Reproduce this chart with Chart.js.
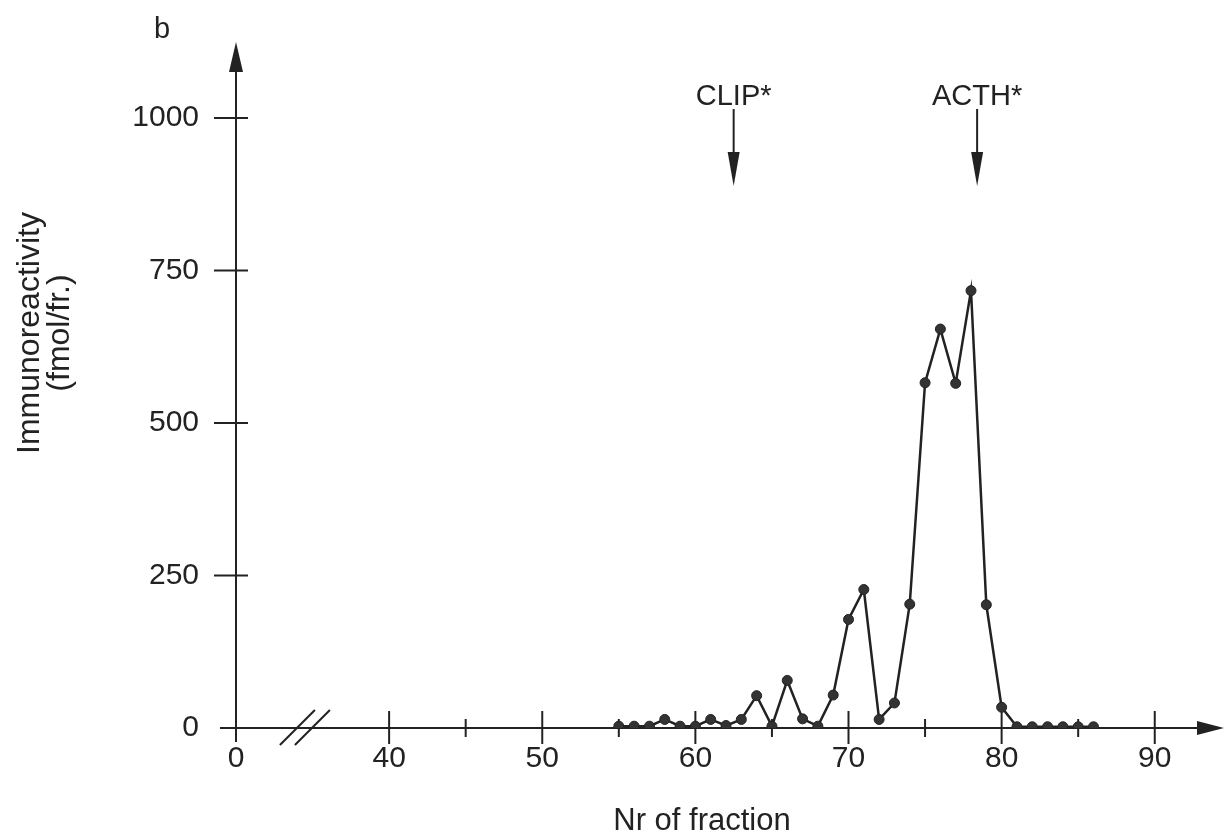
<!DOCTYPE html>
<html lang="en">
<head>
    <meta charset="UTF-8">
    <title>Immunoreactivity per fraction</title>
    <script src="https://cdn.jsdelivr.net/npm/chart.js"></script>
    <style>
        html, body { margin: 0; padding: 0; background: #fff; }
    </style>
</head>
<body>
    <canvas id="fractionChart" width="1227" height="835"></canvas>

    <script>
        // Fraction numbers and immunoreactivity (fmol/fr.)
        const fractions = [55, 56, 57, 58, 59, 60, 61, 62, 63, 64, 65, 66, 67, 68, 69, 70,
                           71, 72, 73, 74, 75, 76, 77, 78, 79, 80, 81, 82, 83, 84, 85, 86];
        const immuno = [3, 3, 3, 14, 3, 3, 14, 4, 14, 53, 3, 78, 15, 3, 54, 178,
                        227, 14, 41, 203, 566, 654, 565, 717, 202, 34, 2, 2, 2, 2, 2, 2];

        // Axis ticks. The axis is broken, so fraction "0" is drawn at position 30
        const xTicks = [30, 40, 45, 50, 55, 60, 65, 70, 75, 80, 85, 90];
        const xTickLabels = ["0", "40", "", "50", "", "60", "", "70", "", "80", "", "90"];
        const yTicks = [0, 250, 500, 750, 1000];

        // Elution positions of the markers (arrows above the plot)
        const markerNames = ["CLIP*", "ACTH*"];
        const markerFractions = [62.5, 78.4];

        const fontFamily = "'Liberation Sans', Arial, Helvetica, sans-serif";
        const ink = "#222";

        function arrowHead(ctx, tipX, tipY, dirX, dirY, len, half) {
            // filled narrow triangle pointing along (dirX, dirY)
            const bx = tipX - dirX * len, by = tipY - dirY * len;
            ctx.beginPath();
            ctx.moveTo(tipX, tipY);
            ctx.lineTo(bx - dirY * half, by + dirX * half);
            ctx.lineTo(bx + dirY * half, by - dirX * half);
            ctx.closePath();
            ctx.fill();
        }

        // Draws the hand-drawn looking axes: crossing ticks, arrows, break mark, labels
        const handAxes = {
            id: "handAxes",
            beforeDatasetsDraw(chart) {
                const { ctx, scales: { x, y } } = chart;
                const ax = x.getPixelForValue(xTicks[0]);
                const ay = y.getPixelForValue(0);
                ctx.save();
                ctx.strokeStyle = ink;
                ctx.fillStyle = ink;
                ctx.lineWidth = 2;

                // x axis with arrow
                ctx.beginPath();
                ctx.moveTo(ax - 16, ay);
                ctx.lineTo(chart.width - 20, ay);
                ctx.stroke();
                arrowHead(ctx, chart.width - 3, ay, 1, 0, 27, 7);

                // y axis with arrow
                ctx.beginPath();
                ctx.moveTo(ax, ay + 14);
                ctx.lineTo(ax, 66);
                ctx.stroke();
                arrowHead(ctx, ax, 42, 0, -1, 30, 7);

                // crossing ticks on y
                yTicks.forEach(v => {
                    if (v === 0) return;
                    const py = y.getPixelForValue(v);
                    ctx.beginPath();
                    ctx.moveTo(ax - 22, py);
                    ctx.lineTo(ax + 12, py);
                    ctx.stroke();
                });

                // crossing ticks on x (major ones carry a label)
                xTicks.forEach((v, i) => {
                    if (i === 0) return;
                    const px = x.getPixelForValue(v);
                    const major = xTickLabels[i] !== "";
                    ctx.beginPath();
                    ctx.moveTo(px, ay - (major ? 17 : 9));
                    ctx.lineTo(px, ay + (major ? 16 : 9));
                    ctx.stroke();
                });

                // axis break "//"
                const bx = x.getPixelForValue(34.5);
                [0, 15].forEach(d => {
                    ctx.beginPath();
                    ctx.moveTo(bx - 25 + d, ay + 17);
                    ctx.lineTo(bx + 10 + d, ay - 18);
                    ctx.stroke();
                });

                // marker arrows and names
                ctx.font = "29px " + fontFamily;
                ctx.textAlign = "center";
                ctx.textBaseline = "alphabetic";
                markerFractions.forEach((f, i) => {
                    const px = x.getPixelForValue(f);
                    ctx.beginPath();
                    ctx.moveTo(px, 109);
                    ctx.lineTo(px, 160);
                    ctx.stroke();
                    arrowHead(ctx, px, 186, 0, 1, 34, 6);
                    ctx.fillText(markerNames[i], px, 105);
                });

                // panel letter
                ctx.textAlign = "left";
                ctx.fillText("b", 154, 38);

                // axis titles
                ctx.font = "31px " + fontFamily;
                ctx.textAlign = "center";
                ctx.fillText("Nr of fraction", 702, 830);
                ctx.save();
                ctx.translate(0, 333);
                ctx.rotate(-Math.PI / 2);
                ctx.textBaseline = "middle";
                ctx.font = "32px " + fontFamily;
                ctx.fillText("Immunoreactivity", 0, 30);
                ctx.fillText("(fmol/fr.)", 0, 60);
                ctx.restore();

                ctx.restore();
            }
        };

        document.addEventListener("DOMContentLoaded", function () {
            const points = fractions.map((f, i) => ({ x: f, y: immuno[i] }));
            const ctx = document.getElementById("fractionChart").getContext("2d");

            new Chart(ctx, {
                type: "line",
                data: {
                    datasets: [{
                        label: "Immunoreactivity",
                        data: points,
                        borderColor: ink,
                        backgroundColor: "#333",
                        borderWidth: 2.5,
                        pointRadius: 5,
                        pointBorderWidth: 1,
                        pointBorderColor: ink,
                        tension: 0,
                        fill: false
                    }]
                },
                options: {
                    responsive: false,
                    animation: false,
                    layout: { padding: { top: 57, right: 11, left: 0, bottom: 0 } },
                    plugins: { legend: { display: false }, tooltip: { enabled: false } },
                    scales: {
                        x: {
                            type: "linear",
                            min: 30,
                            max: 94,
                            grid: { display: false, drawTicks: false },
                            border: { display: false },
                            afterBuildTicks: s => { s.ticks = xTicks.map(v => ({ value: v })); },
                            afterFit: s => { s.height = 107; },
                            ticks: {
                                autoSkip: false,
                                maxRotation: 0,
                                padding: 13,
                                color: ink,
                                font: { family: fontFamily, size: 30 },
                                callback: (v) => xTickLabels[xTicks.indexOf(v)]
                            }
                        },
                        y: {
                            min: 0,
                            max: 1100,
                            grid: { display: false, drawTicks: false },
                            border: { display: false },
                            afterBuildTicks: s => { s.ticks = yTicks.map(v => ({ value: v })); },
                            afterFit: s => { s.width = 236; },
                            ticks: {
                                padding: 37,
                                color: ink,
                                font: { family: fontFamily, size: 30 },
                                callback: (v) => String(v)
                            }
                        }
                    }
                },
                plugins: [handAxes]
            });
        });
    </script>
</body>
</html>
